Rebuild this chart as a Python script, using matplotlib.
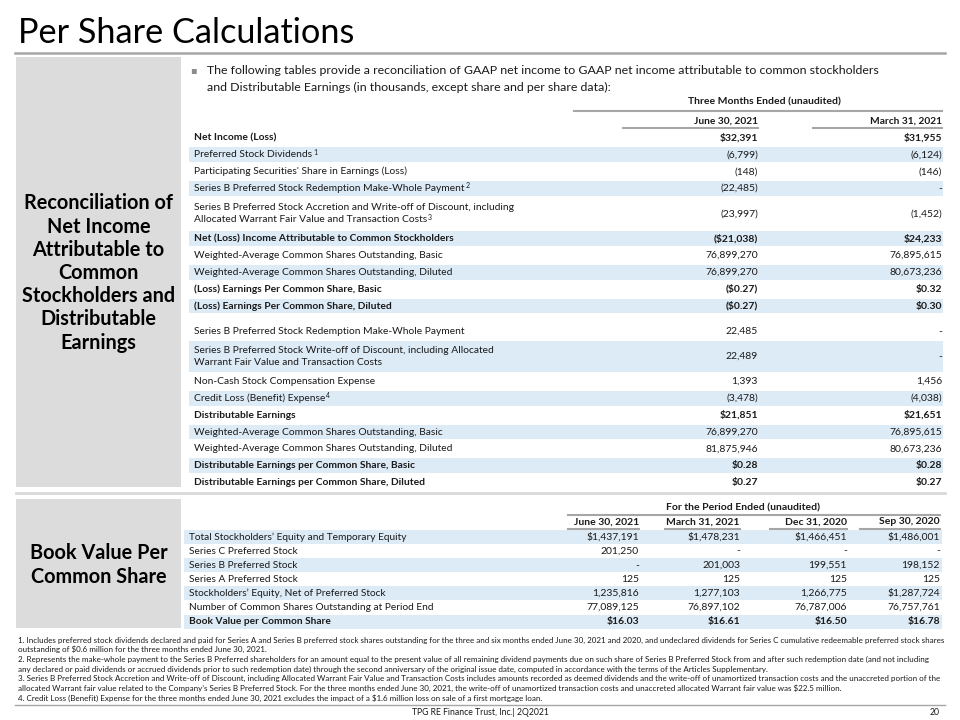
import matplotlib
matplotlib.use("Agg")
import matplotlib.pyplot as plt
from matplotlib import font_manager
from matplotlib.patches import Rectangle

# ---- data -------------------------------------------------------------
title = "Per Share Calculations"
intro = ["The following tables provide a reconciliation of GAAP net income to GAAP net income attributable to common stockholders",
         "and Distributable Earnings (in thousands, except share and per share data):"]

top_header = "Three Months Ended (unaudited)"
top_cols = ["June 30, 2021", "March 31, 2021"]
top_labels = [
    "Net Income (Loss)",
    "Preferred Stock Dividends",
    "Participating Securities' Share in Earnings (Loss)",
    "Series B Preferred Stock Redemption Make-Whole Payment",
    "Series B Preferred Stock Accretion and Write-off of Discount, including\nAllocated Warrant Fair Value and Transaction Costs",
    "Net (Loss) Income Attributable to Common Stockholders",
    "Weighted-Average Common Shares Outstanding, Basic",
    "Weighted-Average Common Shares Outstanding, Diluted",
    "(Loss) Earnings Per Common Share, Basic",
    "(Loss) Earnings Per Common Share, Diluted",
    "Series B Preferred Stock Redemption Make-Whole Payment",
    "Series B Preferred Stock Write-off of Discount, including Allocated\nWarrant Fair Value and Transaction Costs",
    "Non-Cash Stock Compensation Expense",
    "Credit Loss (Benefit) Expense",
    "Distributable Earnings",
    "Weighted-Average Common Shares Outstanding, Basic",
    "Weighted-Average Common Shares Outstanding, Diluted",
    "Distributable Earnings per Common Share, Basic",
    "Distributable Earnings per Common Share, Diluted",
]
top_june = ["$32,391", "(6,799)", "(148)", "(22,485)", "(23,997)", "($21,038)",
            "76,899,270", "76,899,270", "($0.27)", "($0.27)", "22,485", "22,489",
            "1,393", "(3,478)", "$21,851", "76,899,270", "81,875,946", "$0.28", "$0.27"]
top_march = ["$31,955", "(6,124)", "(146)", "-", "(1,452)", "$24,233",
             "76,895,615", "80,673,236", "$0.32", "$0.30", "-", "-",
             "1,456", "(4,038)", "$21,651", "76,895,615", "80,673,236", "$0.28", "$0.27"]
top_marks = {1: "1", 3: "2", 4: "3", 13: "4"}

bv_header = "For the Period Ended (unaudited)"
bv_cols = ["June 30, 2021", "March 31, 2021", "Dec 31, 2020", "Sep 30, 2020"]
bv_labels = ["Total Stockholders\u2019 Equity and Temporary Equity",
             "Series C Preferred Stock",
             "Series B Preferred Stock",
             "Series A Preferred Stock",
             "Stockholders\u2019 Equity, Net of Preferred Stock",
             "Number of Common Shares Outstanding at Period End",
             "Book Value per Common Share"]
bv_jun21 = ["$1,437,191", "201,250", "-", "125", "1,235,816", "77,089,125", "$16.03"]
bv_mar21 = ["$1,478,231", "-", "201,003", "125", "1,277,103", "76,897,102", "$16.61"]
bv_dec20 = ["$1,466,451", "-", "199,551", "125", "1,266,775", "76,787,006", "$16.50"]
bv_sep20 = ["$1,486,001", "-", "198,152", "125", "$1,287,724", "76,757,761", "$16.78"]

left_top = "Reconciliation of\nNet Income\nAttributable to\nCommon\nStockholders and\nDistributable\nEarnings"
left_bottom = "Book Value Per\nCommon Share"

footnotes = [
    "1. Includes preferred stock dividends declared and paid for Series A and Series B preferred stock shares outstanding for the three and six months ended June 30, 2021 and 2020, and undeclared dividends for Series C cumulative redeemable preferred stock shares",
    "outstanding of $0.6 million for the three months ended June 30, 2021.",
    "2. Represents the make-whole payment to the Series B Preferred shareholders for an amount equal to the present value of all remaining dividend payments due on such share of Series B Preferred Stock from and after such redemption date (and not including",
    "any declared or paid dividends or accrued dividends prior to such redemption date) through the second anniversary of the original issue date, computed in accordance with the terms of the Articles Supplementary.",
    "3. Series B Preferred Stock Accretion and Write-off of Discount, including Allocated Warrant Fair Value and Transaction Costs includes amounts recorded as deemed dividends and the write-off of unamortized transaction costs and the unaccreted portion of the",
    "allocated Warrant fair value related to the Company\u2019s Series B Preferred Stock. For the three months ended June 30, 2021, the write-off of unamortized transaction costs and unaccreted allocated Warrant fair value was $22.5 million.",
    "4. Credit Loss (Benefit) Expense for the three months ended June 30, 2021 excludes the impact of a $1.6 million loss on sale of a first mortgage loan.",
]
footer = "TPG RE Finance Trust, Inc.| 2Q2021"
page_no = "20"

# ---- style ------------------------------------------------------------
TOP_BOLD = {0, 5, 8, 9, 14, 17, 18}
TOP_SHADE = {1, 3, 5, 7, 9, 11, 13, 15, 17}
BV_BOLD = {6}
BV_SHADE = {0, 2, 4, 6}
BLUE = "#DDEBF7"
GREY_BOX = "#DCDCDC"
LINE = "#A6A6A6"
INK = "#1A1A1A"


def pick_font(names):
    for n in names:
        try:
            font_manager.findfont(n, fallback_to_default=False)
            return n
        except Exception:
            pass
    return "DejaVu Sans"


FONT = pick_font(["Lato", "Open Sans", "DejaVu Sans"])
plt.rcParams["font.family"] = FONT

fig = plt.figure(figsize=(9.6, 7.2), dpi=100)
ax = fig.add_axes([0, 0, 1, 1])
ax.set_xlim(0, 960)
ax.set_ylim(720, 0)
ax.axis("off")
renderer = fig.canvas.get_renderer()


def txt(x, y, s, **kw):
    kw.setdefault("color", INK)
    kw.setdefault("va", "center")
    return ax.text(x, y, s, parse_math=False, **kw)


def sup_after(t, mark):
    bb = t.get_window_extent(renderer)
    x0, y0 = ax.transData.inverted().transform((bb.x1, bb.y1))
    txt(x0 + 1, y0 + 2, mark, fontsize=5, va="center")


# title and rule
txt(18, 43, title, fontsize=24.7, va="baseline", color="#000000")
ax.plot([15, 945], [53, 53], color=LINE, lw=1.8)

# left grey boxes
ax.add_patch(Rectangle((16, 57), 165, 430, color=GREY_BOX, lw=0))
ax.add_patch(Rectangle((16, 499), 165, 129, color=GREY_BOX, lw=0))
txt(98.5, 273, left_top, fontsize=14.3, fontweight="bold", ha="center",
    linespacing=1.2, color="#000000")
txt(98.5, 565, left_bottom, fontsize=14.3, fontweight="bold", ha="center",
    linespacing=1.24, color="#000000")
ax.plot([16, 945], [493, 493], color="#D9D9D9", lw=2)

# intro bullet
txt(190, 70, "\u25aa", fontsize=7, color="#8C8C8C", family="DejaVu Sans")
for i, line in enumerate(intro):
    txt(207, 70 + i * 17.5, line, fontsize=8.9)

# ---- top table ----------------------------------------------------------
PITCH = 16.8
col_r = [758, 942]
txt(764, 102, top_header, fontsize=7.5, fontweight="bold", ha="center")
ax.plot([574, 942], [111, 111], color=LINE, lw=1.5)
for c, (name, x0) in enumerate(zip(top_cols, [623, 813])):
    txt(col_r[c], 121, name, fontsize=7.3, fontweight="bold", ha="right")
    ax.plot([x0, col_r[c]], [127.5, 127.5], color=LINE, lw=1.5)

y = 129.6
for i, label in enumerate(top_labels):
    if i == 10:
        y += PITCH * 0.5
    lines = label.split("\n")
    h = PITCH * len(lines)
    yc = y + h / 2
    if i in TOP_SHADE:
        ax.add_patch(Rectangle((189, y + 1), 754, h - 2, color=BLUE, lw=0))
    w = "bold" if i in TOP_BOLD else "normal"
    last = None
    for k, ln in enumerate(lines):
        ly = yc + (k - (len(lines) - 1) / 2) * 12.7
        last = txt(194, ly, ln, fontsize=7.4, fontweight=w)
    if i in top_marks:
        sup_after(last, top_marks[i])
    txt(col_r[0], yc, top_june[i], fontsize=7.5, fontweight=w, ha="right")
    txt(col_r[1], yc, top_march[i], fontsize=7.5, fontweight=w, ha="right")
    y += h

# ---- book value table -------------------------------------------------
bv_vals = [bv_jun21, bv_mar21, bv_dec20, bv_sep20]
bv_r = [639, 740, 847, 940]
bv_l = [568, 665, 770, 860]
txt(743, 508, bv_header, fontsize=7.5, fontweight="bold", ha="center")
ax.plot([568, 940], [515, 515], color=LINE, lw=1.5)
for c, name in enumerate(bv_cols):
    txt(bv_r[c], 522, name, fontsize=7.5, fontweight="bold", ha="right")
    ax.plot([bv_l[c], bv_r[c]], [528.5, 528.5], color=LINE, lw=1.5)

BV_PITCH = 14.1
for i, label in enumerate(bv_labels):
    yc = 537 + i * BV_PITCH
    if i in BV_SHADE:
        ax.add_patch(Rectangle((184, yc - BV_PITCH / 2), 758, BV_PITCH, color=BLUE, lw=0))
    w = "bold" if i in BV_BOLD else "normal"
    txt(189, yc, label, fontsize=7.3, fontweight=w)
    for c in range(4):
        txt(bv_r[c], yc, bv_vals[c][i], fontsize=7.5, fontweight=w, ha="right")

# ---- footnotes and footer ---------------------------------------------
for i, line in enumerate(footnotes):
    txt(18, 640 + i * 9.7, line, fontsize=5.72)
ax.plot([15, 945], [705, 705], color=LINE, lw=1)
txt(480, 712.5, footer, fontsize=6.2, ha="center")
txt(940, 712.5, page_no, fontsize=6.2, ha="right")

fig.savefig("out.png", dpi=100)
